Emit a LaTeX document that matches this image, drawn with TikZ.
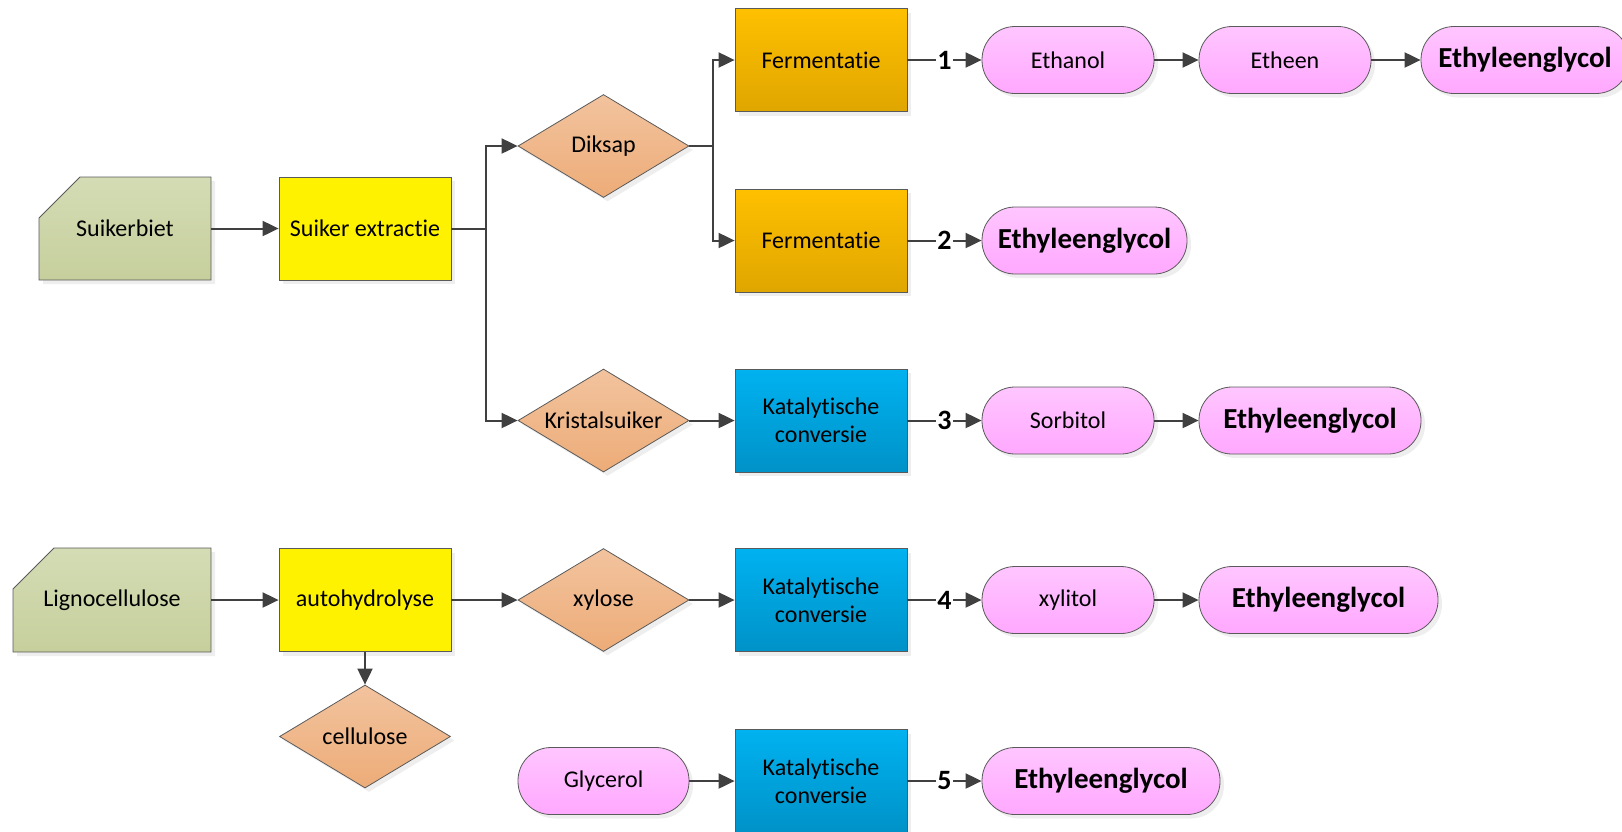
\documentclass[tikz,border=0pt]{standalone}
\usepackage{fontspec}
\setmainfont{Carlito}[RawFeature={-liga;-dlig;-clig}]
\usetikzlibrary{shapes.geometric,arrows.meta,shadows}
\definecolor{linec}{HTML}{404040}
\definecolor{bordc}{HTML}{5A5A5A}
\definecolor{fermT}{HTML}{FFC000}
\definecolor{fermB}{HTML}{DFA600}
\definecolor{katT}{HTML}{00B2F0}
\definecolor{katB}{HTML}{0092C8}
\definecolor{pinkT}{HTML}{FFC6FF}
\definecolor{pinkB}{HTML}{FFA8FF}
\definecolor{diaT}{HTML}{F2C39E}
\definecolor{diaB}{HTML}{EDAC78}
\definecolor{greenT}{HTML}{D4DCB5}
\definecolor{greenB}{HTML}{C6CF9C}
\begin{document}
\begin{tikzpicture}[x=1pt,y=-1pt,
  shad/.style={drop shadow={shadow xshift=4pt,shadow yshift=-4pt,fill=black!13}},
  base/.style={draw=bordc, line width=0.8pt, font=\fontsize{24}{28}\selectfont, align=center, inner sep=0pt, shad},
  boxn/.style={base, rectangle, minimum width=172pt, minimum height=103pt},
  ferm/.style={boxn, top color=fermT, bottom color=fermB},
  kat/.style={boxn, top color=katT, bottom color=katB},
  yel/.style={boxn, fill=yellow},
  dia/.style={base, diamond, shape aspect=1.66, minimum width=171pt, minimum height=103pt, top color=diaT, bottom color=diaB},
  pill/.style={base, rectangle, rounded corners=33pt, minimum height=67pt, minimum width=172pt, top color=pinkT, bottom color=pinkB},
  egn/.style={pill, font=\fontsize{29}{32}\selectfont\bfseries},
  card/.style={draw=bordc, line width=0.8pt, top color=greenT, bottom color=greenB, shad},
  lbl/.style={rectangle, inner sep=0pt, font=\fontsize{24}{28}\selectfont, align=center},
  num/.style={fill=white, inner sep=1pt, font=\fontsize{28}{30}\selectfont\bfseries},
  conn/.style={draw=linec, line width=2pt, -{Triangle[length=16pt,width=15pt]}}
]
\clip (0,0) rectangle (1622,831);
% cards
\path[card] (39,218) -- (80,177) -- (211,177) -- (211,280) -- (39,280) -- cycle;
\node[lbl, minimum width=172pt, minimum height=103pt] (sb) at (125,228.5) {Suikerbiet};
\path[card] (13,589) -- (54,548) -- (211,548) -- (211,652) -- (13,652) -- cycle;
\node[lbl, minimum width=198pt, minimum height=104pt] (ligno) at (112,600) {Lignocellulose};
% row nodes
\node[yel] (se) at (365,228.5) {Suiker extractie};
\node[dia] (diksap) at (603.5,146) {Diksap};
\node[ferm] (f1) at (821,60) {Fermentatie};
\node[ferm] (f2) at (821,240.5) {Fermentatie};
\node[pill] (ethanol) at (1068,60) {Ethanol};
\node[pill] (etheen) at (1285,60) {Etheen};
\node[egn, minimum width=208pt] (eg1) at (1525,60) {Ethyleenglycol};
\node[egn, minimum width=205pt] (eg2) at (1084.5,240.5) {Ethyleenglycol};
\node[dia] (kristal) at (603.5,420.5) {Kristalsuiker};
\node[kat] (kat3) at (821,420.5) {Katalytische\\conversie};
\node[pill] (sorbitol) at (1068,420.5) {Sorbitol};
\node[egn, minimum width=222pt] (eg3) at (1310,420.5) {Ethyleenglycol};
\node[yel] (auto) at (365,600) {autohydrolyse};
\node[dia] (xylose) at (603.5,600) {xylose};
\node[kat] (kat4) at (821,600) {Katalytische\\conversie};
\node[pill] (xylitol) at (1068,600) {xylitol};
\node[egn, minimum width=239pt] (eg4) at (1318.5,600) {Ethyleenglycol};
\node[dia] (cellulose) at (365,736.5) {cellulose};
\node[pill, minimum width=171pt] (glycerol) at (603.5,781) {Glycerol};
\node[kat] (kat5) at (821,781) {Katalytische\\conversie};
\node[egn, minimum width=238pt] (eg5) at (1101,781) {Ethyleenglycol};
% connectors
\draw[conn] (sb) -- (se);
\draw[conn] (se.east) -- ++(35,0) |- (diksap.west);
\draw[conn] (se.east) -- ++(35,0) |- (kristal.west);
\draw[conn] (diksap.east) -- ++(24,0) |- (f1.west);
\draw[conn] (diksap.east) -- ++(24,0) |- (f2.west);
\draw[conn] (f1) -- node[num]{1} (ethanol);
\draw[conn] (ethanol) -- (etheen);
\draw[conn] (etheen) -- (eg1);
\draw[conn] (f2) -- node[num]{2} (eg2);
\draw[conn] (kristal) -- (kat3);
\draw[conn] (kat3) -- node[num]{3} (sorbitol);
\draw[conn] (sorbitol) -- (eg3);
\draw[conn] (ligno) -- (auto);
\draw[conn] (auto) -- (xylose);
\draw[conn] (auto) -- (cellulose);
\draw[conn] (xylose) -- (kat4);
\draw[conn] (kat4) -- node[num]{4} (xylitol);
\draw[conn] (xylitol) -- (eg4);
\draw[conn] (glycerol) -- (kat5);
\draw[conn] (kat5) -- node[num]{5} (eg5);
\end{tikzpicture}
\end{document}
